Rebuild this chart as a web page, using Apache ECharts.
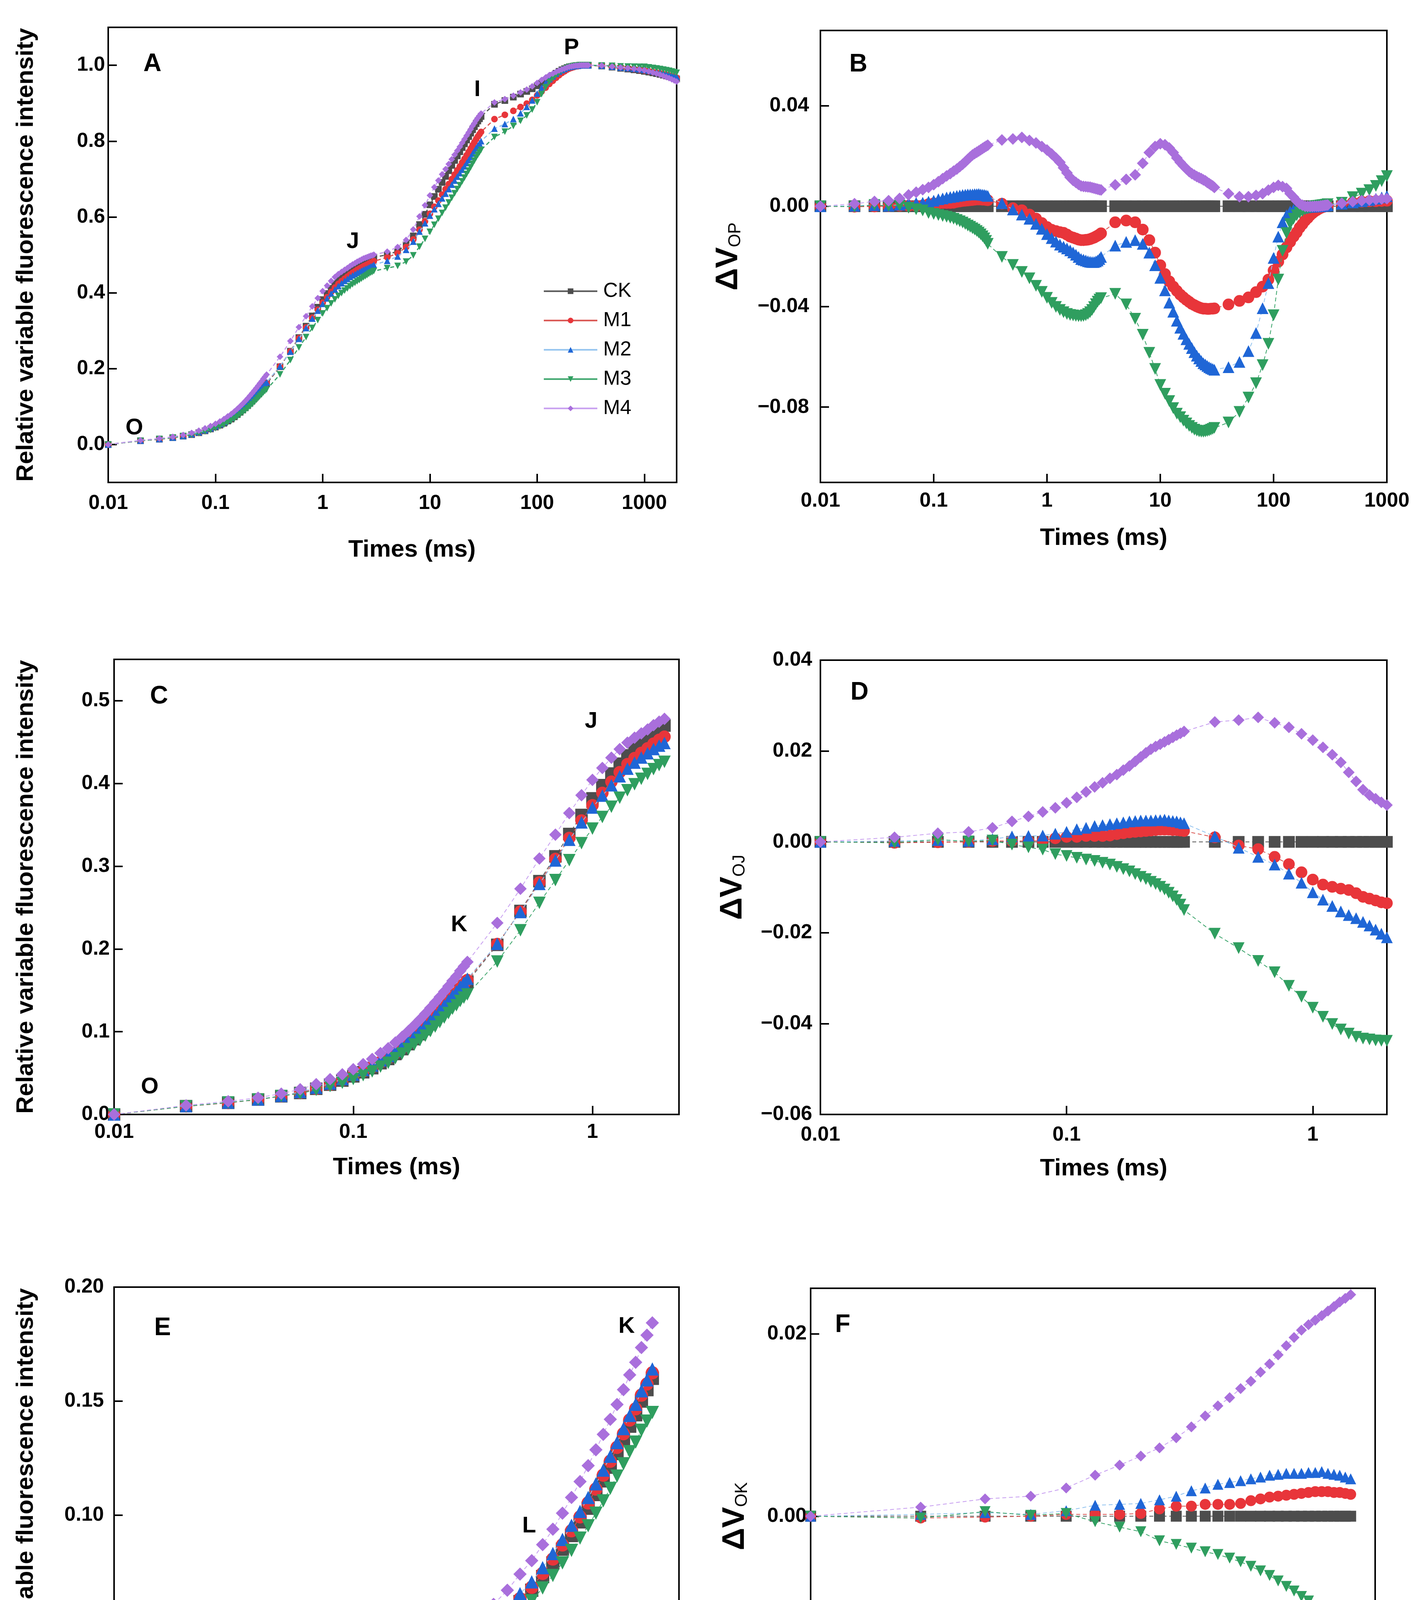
<!DOCTYPE html>
<html>
<head>
<meta charset="utf-8">
<script src="https://cdn.jsdelivr.net/npm/echarts@6/dist/echarts.min.js"></script>
<style>
html, body { margin: 0; padding: 0; background: #fff; }
#main { width: 3622px; height: 4691px; }
</style>
</head>
<body>
<div id="main"></div>
<script>
// sampling times (ms)
var times = [
    0.01, 0.02, 0.03, 0.04, 0.05, 0.06, 0.07, 0.08, 0.09, 0.10, 0.11, 0.12, 0.13, 0.14, 0.15,
    0.16, 0.17, 0.18, 0.19, 0.20, 0.21, 0.22, 0.23, 0.24, 0.25, 0.26, 0.27, 0.28, 0.29, 0.30,
    0.4, 0.5, 0.6, 0.7, 0.8, 0.9, 1.0, 1.1, 1.2, 1.3, 1.4, 1.5, 1.6, 1.7, 1.8, 1.9, 2.0,
    2.1, 2.2, 2.3, 2.4, 2.5, 2.6, 2.7, 2.8, 2.9, 3.0,
    4, 5, 6, 7, 8, 9, 10, 11, 12, 13, 14, 15, 16, 17, 18, 19, 20, 21, 22, 23, 24, 25, 26, 27, 28, 29, 30,
    40, 50, 60, 70, 80, 90, 100, 110, 120, 130, 140, 150, 160, 170, 180, 190, 200, 210, 220, 230, 240, 250, 260, 270, 280, 290, 300,
    400, 500, 600, 700, 800, 900, 1000, 1100, 1200, 1300, 1400, 1500, 1600, 1700, 1800, 1900, 2000
];

var seriesNames = ['CK', 'M1', 'M2', 'M3', 'M4'];

// relative variable fluorescence V(OP)
var vCK = [
    0, 0.010, 0.014, 0.018, 0.022, 0.026, 0.031, 0.036, 0.041, 0.046, 0.051, 0.056, 0.062, 0.067, 0.073,
    0.079, 0.085, 0.091, 0.097, 0.103, 0.109, 0.115, 0.121, 0.127, 0.133, 0.139, 0.144, 0.150, 0.155, 0.160,
    0.205, 0.246, 0.282, 0.312, 0.339, 0.362, 0.382, 0.398, 0.412, 0.424, 0.434, 0.442, 0.449, 0.455, 0.461, 0.466, 0.470,
    0.474, 0.477, 0.480, 0.483, 0.485, 0.487, 0.489, 0.491, 0.492, 0.494,
    0.500, 0.510, 0.527, 0.550, 0.580, 0.607, 0.632, 0.654, 0.673, 0.691, 0.707, 0.722, 0.736, 0.749, 0.761, 0.772, 0.783, 0.793, 0.803, 0.812, 0.821, 0.830, 0.838, 0.846, 0.853, 0.859, 0.865,
    0.897, 0.907, 0.916, 0.924, 0.931, 0.938, 0.946, 0.953, 0.960, 0.967, 0.973, 0.979, 0.984, 0.988, 0.991, 0.994, 0.996, 0.997, 0.998, 0.999, 0.999, 1.000, 1.000, 1.000, 1.000, 1.000, 1.000,
    0.998, 0.995, 0.992, 0.990, 0.988, 0.986, 0.984, 0.982, 0.980, 0.978, 0.976, 0.974, 0.972, 0.970, 0.968, 0.966, 0.964
];
var vM1 = [
    0, 0.0098, 0.0139, 0.0180, 0.0222, 0.0262, 0.0312, 0.0363, 0.0418, 0.0471, 0.0521, 0.0573, 0.0633, 0.0683, 0.0744,
    0.0807, 0.0869, 0.0931, 0.0992, 0.1053, 0.1114, 0.1175, 0.1236, 0.1297, 0.1357, 0.1417, 0.1466, 0.1526, 0.1575, 0.1624,
    0.2060, 0.2452, 0.2804, 0.3087, 0.3341, 0.3553, 0.3737, 0.3886, 0.4021, 0.4137, 0.4234, 0.4307, 0.4369, 0.4425, 0.4481, 0.4527, 0.4565,
    0.4605, 0.4636, 0.4667, 0.4699, 0.4722, 0.4745, 0.4769, 0.4793, 0.4807, 0.4832,
    0.4936, 0.5043, 0.5206, 0.5407, 0.5665, 0.5885, 0.6085, 0.6270, 0.6431, 0.6590, 0.6733, 0.6868, 0.6997, 0.7117, 0.7229, 0.7331, 0.7436, 0.7531, 0.7627, 0.7714, 0.7802, 0.7892, 0.7971, 0.8051, 0.8122, 0.8182, 0.8243,
    0.8579, 0.8693, 0.8797, 0.8898, 0.8990, 0.9088, 0.9204, 0.9309, 0.9408, 0.9506, 0.9588, 0.9669, 0.9736, 0.9795, 0.9839, 0.9883, 0.9913, 0.9934, 0.9952, 0.9969, 0.9974, 0.9989, 0.9993, 0.9996, 0.9998, 1.0000, 1.0000,
    0.9990, 0.9965, 0.9938, 0.9920, 0.9900, 0.9881, 0.9862, 0.9843, 0.9824, 0.9805, 0.9786, 0.9767, 0.9748, 0.9729, 0.9710, 0.9691, 0.9672
];
var vM2 = [
    0, 0.0102, 0.0144, 0.0182, 0.0226, 0.0272, 0.0323, 0.0374, 0.0428, 0.0482, 0.0538, 0.0591, 0.0655, 0.0707, 0.0769,
    0.0831, 0.0893, 0.0955, 0.1016, 0.1077, 0.1137, 0.1197, 0.1258, 0.1318, 0.1379, 0.1437, 0.1486, 0.1545, 0.1593, 0.1641,
    0.2062, 0.2447, 0.2787, 0.3070, 0.3320, 0.3530, 0.3709, 0.3853, 0.3979, 0.4087, 0.4179, 0.4252, 0.4314, 0.4366, 0.4417, 0.4458, 0.4490,
    0.4527, 0.4554, 0.4581, 0.4609, 0.4628, 0.4648, 0.4670, 0.4694, 0.4710, 0.4738,
    0.4843, 0.4958, 0.5135, 0.5350, 0.5615, 0.5835, 0.6035, 0.6205, 0.6346, 0.6490, 0.6614, 0.6736, 0.6852, 0.6960, 0.7062, 0.7155, 0.7249, 0.7335, 0.7424, 0.7504, 0.7585, 0.7670, 0.7744, 0.7819, 0.7885, 0.7942, 0.7999,
    0.8329, 0.8450, 0.8583, 0.8735, 0.8904, 0.9074, 0.9254, 0.9409, 0.9536, 0.9634, 0.9709, 0.9776, 0.9830, 0.9873, 0.9904, 0.9936, 0.9957, 0.9968, 0.9978, 0.9989, 0.9989, 1.0000, 1.0000, 1.0000, 1.0000, 1.0000, 1.0000,
    0.9990, 0.9965, 0.9940, 0.9925, 0.9910, 0.9895, 0.9880, 0.9862, 0.9844, 0.9826, 0.9808, 0.9790, 0.9772, 0.9754, 0.9736, 0.9718, 0.9700
];
var vM3 = [
    0, 0.0098, 0.0145, 0.0181, 0.0223, 0.0254, 0.0298, 0.0343, 0.0383, 0.0429, 0.0475, 0.0521, 0.0578, 0.0624, 0.0680,
    0.0735, 0.0790, 0.0845, 0.0899, 0.0953, 0.1008, 0.1062, 0.1117, 0.1171, 0.1225, 0.1278, 0.1320, 0.1372, 0.1412, 0.1450,
    0.1848, 0.2226, 0.2558, 0.2833, 0.3073, 0.3279, 0.3455, 0.3595, 0.3719, 0.3827, 0.3918, 0.3991, 0.4057, 0.4115, 0.4173, 0.4222, 0.4262,
    0.4303, 0.4336, 0.4371, 0.4408, 0.4437, 0.4468, 0.4500, 0.4530, 0.4548, 0.4574,
    0.4651, 0.4709, 0.4822, 0.4988, 0.5216, 0.5422, 0.5608, 0.5793, 0.5954, 0.6106, 0.6244, 0.6380, 0.6506, 0.6625, 0.6735, 0.6837, 0.6940, 0.7036, 0.7133, 0.7222, 0.7312, 0.7403, 0.7485, 0.7567, 0.7640, 0.7703, 0.7767,
    0.8109, 0.8251, 0.8398, 0.8535, 0.8677, 0.8832, 0.9026, 0.9238, 0.9422, 0.9563, 0.9659, 0.9740, 0.9804, 0.9854, 0.9891, 0.9927, 0.9951, 0.9964, 0.9977, 0.9990, 0.9991, 1.0000, 1.0000, 1.0000, 1.0000, 1.0000, 1.0000,
    0.9994, 0.9986, 0.9970, 0.9964, 0.9961, 0.9960, 0.9960, 0.9945, 0.9930, 0.9915, 0.9900, 0.9885, 0.9870, 0.9853, 0.9836, 0.9818, 0.9800
];
var vM4 = [
    0, 0.0110, 0.0159, 0.0202, 0.0251, 0.0305, 0.0366, 0.0426, 0.0485, 0.0546, 0.0608, 0.0670, 0.0741, 0.0800, 0.0870,
    0.0938, 0.1008, 0.1077, 0.1147, 0.1217, 0.1286, 0.1354, 0.1420, 0.1485, 0.1550, 0.1615, 0.1670, 0.1735, 0.1789, 0.1843,
    0.2314, 0.2728, 0.3094, 0.3382, 0.3642, 0.3858, 0.4044, 0.4188, 0.4312, 0.4415, 0.4493, 0.4553, 0.4605, 0.4653, 0.4705, 0.4747, 0.4781,
    0.4819, 0.4848, 0.4877, 0.4906, 0.4924, 0.4942, 0.4960, 0.4978, 0.4986, 0.5005,
    0.5085, 0.5207, 0.5395, 0.5671, 0.6014, 0.6308, 0.6569, 0.6785, 0.6962, 0.7124, 0.7262, 0.7395, 0.7521, 0.7639, 0.7748, 0.7850, 0.7954, 0.8048, 0.8144, 0.8230, 0.8315, 0.8401, 0.8475, 0.8550, 0.8615, 0.8671, 0.8725,
    0.9020, 0.9108, 0.9198, 0.9283, 0.9360, 0.9444, 0.9535, 0.9613, 0.9678, 0.9741, 0.9780, 0.9826, 0.9861, 0.9890, 0.9914, 0.9940, 0.9959, 0.9969, 0.9979, 0.9990, 0.9990, 1.0000, 1.0000, 1.0000, 1.0000, 1.0000, 1.0000,
    0.9992, 0.9968, 0.9942, 0.9925, 0.9907, 0.9889, 0.9870, 0.9840, 0.9810, 0.9780, 0.9750, 0.9720, 0.9690, 0.9660, 0.9630, 0.9600, 0.9570
];

// difference curves, treatment minus CK
var dCK = [
    0, 0, 0, 0, 0, 0, 0, 0, 0, 0, 0, 0, 0, 0, 0, 0, 0, 0, 0, 0, 0, 0, 0, 0, 0, 0, 0, 0, 0, 0,
    0, 0, 0, 0, 0, 0, 0, 0, 0, 0, 0, 0, 0, 0, 0, 0, 0, 0, 0, 0, 0, 0, 0, 0, 0, 0, 0,
    0, 0, 0, 0, 0, 0, 0, 0, 0, 0, 0, 0, 0, 0, 0, 0, 0, 0, 0, 0, 0, 0, 0, 0, 0, 0, 0,
    0, 0, 0, 0, 0, 0, 0, 0, 0, 0, 0, 0, 0, 0, 0, 0, 0, 0, 0, 0, 0, 0, 0, 0, 0, 0, 0,
    0, 0, 0, 0, 0, 0, 0, 0, 0, 0, 0, 0, 0, 0, 0, 0, 0
];
var dM1 = [
    0, -0.0002, -0.0001, 0, 0.0002, 0.0002, 0.0002, 0.0003, 0.0008, 0.0011, 0.0011, 0.0013, 0.0013, 0.0013, 0.0014,
    0.0017, 0.0019, 0.0021, 0.0022, 0.0023, 0.0024, 0.0025, 0.0026, 0.0027, 0.0027, 0.0027, 0.0026, 0.0026, 0.0025, 0.0024,
    0.0010, -0.0008, -0.0016, -0.0033, -0.0049, -0.0067, -0.0083, -0.0094, -0.0099, -0.0103, -0.0106, -0.0113, -0.0121, -0.0125, -0.0129, -0.0133, -0.0135,
    -0.0135, -0.0134, -0.0133, -0.0131, -0.0128, -0.0125, -0.0121, -0.0117, -0.0113, -0.0108,
    -0.0064, -0.0057, -0.0064, -0.0093, -0.0135, -0.0185, -0.0235, -0.0270, -0.0299, -0.0320, -0.0337, -0.0352, -0.0363, -0.0373, -0.0381, -0.0389, -0.0394, -0.0399, -0.0403, -0.0406, -0.0408, -0.0408, -0.0409, -0.0409, -0.0408, -0.0408, -0.0407,
    -0.0391, -0.0377, -0.0363, -0.0342, -0.0320, -0.0292, -0.0256, -0.0221, -0.0192, -0.0164, -0.0142, -0.0121, -0.0104, -0.0085, -0.0071, -0.0057, -0.0047, -0.0036, -0.0028, -0.0021, -0.0016, -0.0011, -0.0007, -0.0004, -0.0002, 0, 0.0001,
    0.0010, 0.0015, 0.0018, 0.0020, 0.0020, 0.0021, 0.0022, 0.0023, 0.0024, 0.0025, 0.0026, 0.0027, 0.0028, 0.0029, 0.0030, 0.0031, 0.0032
];
var dM2 = [
    0, 0.0002, 0.0004, 0.0002, 0.0006, 0.0012, 0.0013, 0.0014, 0.0018, 0.0022, 0.0028, 0.0031, 0.0035, 0.0037, 0.0039,
    0.0041, 0.0043, 0.0045, 0.0046, 0.0047, 0.0047, 0.0047, 0.0048, 0.0048, 0.0049, 0.0047, 0.0046, 0.0045, 0.0043, 0.0041,
    0.0012, -0.0013, -0.0033, -0.0050, -0.0070, -0.0090, -0.0111, -0.0127, -0.0141, -0.0153, -0.0161, -0.0168, -0.0176, -0.0184, -0.0193, -0.0202, -0.0210,
    -0.0213, -0.0216, -0.0219, -0.0221, -0.0222, -0.0222, -0.0220, -0.0216, -0.0210, -0.0202,
    -0.0157, -0.0142, -0.0135, -0.0150, -0.0185, -0.0235, -0.0285, -0.0335, -0.0384, -0.0420, -0.0456, -0.0484, -0.0508, -0.0530, -0.0548, -0.0565, -0.0581, -0.0595, -0.0606, -0.0616, -0.0625, -0.0630, -0.0636, -0.0641, -0.0645, -0.0648, -0.0651,
    -0.0641, -0.0620, -0.0577, -0.0505, -0.0406, -0.0306, -0.0206, -0.0121, -0.0064, -0.0036, -0.0021, -0.0014, -0.0010, -0.0007, -0.0006, -0.0004, -0.0003, -0.0002, -0.0002, -0.0001, -0.0001, 0, 0, 0.0001, 0.0002, 0.0003, 0.0004,
    0.0010, 0.0015, 0.0020, 0.0025, 0.0030, 0.0035, 0.0040, 0.0042, 0.0044, 0.0046, 0.0048, 0.0050, 0.0052, 0.0054, 0.0056, 0.0058, 0.0060
];
var dM3 = [
    0, -0.0002, 0.0005, 0.0001, 0.0003, -0.0006, -0.0012, -0.0017, -0.0027, -0.0031, -0.0035, -0.0039, -0.0042, -0.0046, -0.0050,
    -0.0055, -0.0060, -0.0065, -0.0071, -0.0077, -0.0082, -0.0088, -0.0093, -0.0099, -0.0105, -0.0112, -0.0120, -0.0128, -0.0138, -0.0150,
    -0.0202, -0.0234, -0.0262, -0.0287, -0.0317, -0.0341, -0.0365, -0.0385, -0.0401, -0.0413, -0.0422, -0.0429, -0.0433, -0.0435, -0.0437, -0.0438, -0.0438,
    -0.0437, -0.0434, -0.0429, -0.0422, -0.0413, -0.0402, -0.0390, -0.0380, -0.0372, -0.0366,
    -0.0349, -0.0391, -0.0448, -0.0512, -0.0584, -0.0648, -0.0712, -0.0747, -0.0776, -0.0804, -0.0826, -0.0840, -0.0854, -0.0865, -0.0875, -0.0883, -0.0890, -0.0894, -0.0897, -0.0898, -0.0898, -0.0897, -0.0895, -0.0893, -0.0890, -0.0887, -0.0883,
    -0.0861, -0.0819, -0.0762, -0.0705, -0.0633, -0.0548, -0.0434, -0.0292, -0.0178, -0.0107, -0.0071, -0.0050, -0.0036, -0.0026, -0.0019, -0.0013, -0.0009, -0.0006, -0.0003, 0, 0.0001, 0.0002, 0.0003, 0.0004, 0.0005, 0.0006, 0.0008,
    0.0014, 0.0036, 0.0050, 0.0064, 0.0081, 0.0100, 0.0120, 0.0125, 0.0130, 0.0135, 0.0140, 0.0145, 0.0150, 0.0153, 0.0156, 0.0158, 0.0160
];
var dM4 = [
    0, 0.0010, 0.0019, 0.0022, 0.0031, 0.0045, 0.0056, 0.0066, 0.0075, 0.0086, 0.0098, 0.0110, 0.0121, 0.0130, 0.0140,
    0.0148, 0.0158, 0.0167, 0.0177, 0.0187, 0.0196, 0.0204, 0.0210, 0.0215, 0.0220, 0.0225, 0.0230, 0.0235, 0.0239, 0.0243,
    0.0264, 0.0268, 0.0274, 0.0262, 0.0252, 0.0238, 0.0224, 0.0208, 0.0192, 0.0175, 0.0153, 0.0133, 0.0115, 0.0103, 0.0095, 0.0087, 0.0081,
    0.0079, 0.0078, 0.0077, 0.0076, 0.0074, 0.0072, 0.0070, 0.0068, 0.0066, 0.0065,
    0.0085, 0.0107, 0.0125, 0.0171, 0.0214, 0.0238, 0.0249, 0.0245, 0.0232, 0.0214, 0.0192, 0.0175, 0.0161, 0.0149, 0.0138, 0.0130, 0.0124, 0.0118, 0.0114, 0.0110, 0.0105, 0.0101, 0.0095, 0.0090, 0.0085, 0.0081, 0.0075,
    0.0050, 0.0038, 0.0038, 0.0043, 0.0050, 0.0064, 0.0075, 0.0083, 0.0078, 0.0071, 0.0050, 0.0036, 0.0021, 0.0010, 0.0004, 0, -0.0001, -0.0001, -0.0001, 0, 0, 0, 0.0001, 0.0002, 0.0003, 0.0004, 0.0005,
    0.0012, 0.0018, 0.0022, 0.0025, 0.0027, 0.0029, 0.0030, 0.0020, 0.0010, 0, -0.0010, -0.0020, -0.0030, -0.0040, -0.0050, -0.0060, -0.0070
];

var vSets = [vCK, vM1, vM2, vM3, vM4];
var dSets = [dCK, dM1, dM2, dM3, dM4];

var FONT = '"Liberation Sans", Arial, Helvetica, sans-serif';
var markerColors = ['#4d4d4d', '#e8353a', '#1f66d6', '#2f9e5f', '#a96fdc'];
var lineColors = ['#555555', '#d9534f', '#92c3ef', '#3aa46a', '#c79ef0'];
var symbols = ['rect', 'circle', 'triangle', 'triangle', 'diamond'];
var rotations = [0, 0, 0, 180, 0];

function pairs(ys, tMax) {
    var out = [];
    for (var i = 0; i < times.length; i++) {
        if (times[i] <= tMax * 1.0001) out.push([times[i], ys[i]]);
    }
    return out;
}

function fmtLog(v) {
    var e = Math.log(v) / Math.LN10;
    if (Math.abs(e - Math.round(e)) > 1e-6) return '';
    return String(+v.toPrecision(6));
}

function fmtFixed(d) {
    return function (v) {
        var s = Math.abs(v).toFixed(d);
        return (v < -1e-9 ? '\u2212' : '') + s;
    };
}

var grids = [
    { left: 277, top: 70, width: 1455, height: 1165 },
    { left: 2100, top: 78, width: 1450, height: 1157 },
    { left: 292, top: 1688, width: 1446, height: 1165 },
    { left: 2100, top: 1690, width: 1450, height: 1163 },
    { left: 292, top: 3295, width: 1446, height: 1167 },
    { left: 2075, top: 3298, width: 1445, height: 1167 }
];

var xMax = [2000, 1000, 2.3, 2, 0.355, 0.35];
var dataMax = [2000, 1000, 2, 2, 0.3, 0.3];
var xLabelMargin = [28, 22, 20, 27, 19, 25];
var xNameGap = [142, 112, 105, 108, 106, 112];
var symbolSizes = [17, 30, 32, 30, 34, 28];

var yCfg = [
    { min: -0.1, max: 1.1, ticks: [0, 0.2, 0.4, 0.6, 0.8, 1.0], dec: 1, margin: 8, gap: 179, delta: null },
    { min: -0.11, max: 0.07, ticks: [-0.08, -0.04, 0, 0.04], dec: 2, margin: 29, gap: 195, delta: 'OP' },
    { min: 0, max: 0.55, ticks: [0, 0.1, 0.2, 0.3, 0.4, 0.5], dec: 1, margin: 11, gap: 194, delta: null },
    { min: -0.06, max: 0.04, ticks: [-0.06, -0.04, -0.02, 0, 0.02, 0.04], dec: 2, margin: 21, gap: 184, delta: 'OJ' },
    { min: 0, max: 0.2, ticks: [0, 0.05, 0.1, 0.15, 0.2], dec: 2, margin: 26, gap: 194, delta: null },
    { min: -0.025, max: 0.025, ticks: [-0.02, 0, 0.02], dec: 2, margin: 10, gap: 153, delta: 'OK' }
];

var pointLabels = [
    [['O', 0.0175, 0.043], ['J', 1.91, 0.534], ['I', 27.7, 0.935], ['P', 209, 1.045]],
    null,
    [['O', 0.0141, 0.033], ['K', 0.277, 0.229], ['J', 0.987, 0.475]],
    null,
    [['O', 0.0124, 0.012], ['L', 0.1377, 0.0951], ['K', 0.255, 0.1827]],
    null
];

var panelLetters = [
    ['A', 390, 164], ['B', 2197, 165], ['C', 407, 1783],
    ['D', 2200, 1773], ['E', 416, 3400], ['F', 2157, 3392]
];

var xAxes = [], yAxes = [], series = [];

grids.forEach(function (g, gi) {
    xAxes.push({
        type: 'log', logBase: 10, gridIndex: gi, min: 0.01, max: xMax[gi],
        name: 'Times (ms)', nameLocation: 'middle', nameGap: xNameGap[gi],
        nameTextStyle: {
            fontFamily: FONT, fontSize: 62, fontWeight: 'bold', color: '#000',
            padding: gi === 0 ? [0, 0, 0, 100] : 0
        },
        axisLine: { show: true, onZero: false, lineStyle: { color: '#000', width: 4 } },
        axisTick: { show: true, inside: true, length: 22, lineStyle: { color: '#000', width: 4 } },
        axisLabel: {
            margin: xLabelMargin[gi], fontFamily: FONT, fontSize: 52, fontWeight: 'bold', color: '#000',
            formatter: fmtLog, showMinLabel: true, showMaxLabel: true
        },
        splitLine: { show: false }
    });

    var yc = yCfg[gi];
    var yName, yNameStyle;
    if (yc.delta) {
        yName = '{a|\u0394V}{b|' + yc.delta + '}';
        yNameStyle = {
            color: '#000',
            rich: {
                a: { fontFamily: FONT, fontSize: 80, fontWeight: 'bold', color: '#000', lineHeight: 80 },
                b: { fontFamily: FONT, fontSize: 44, color: '#000', lineHeight: 20, verticalAlign: 'bottom' }
            }
        };
    } else {
        yName = 'Relative variable fluorescence intensity';
        yNameStyle = { fontFamily: FONT, fontSize: 62, fontWeight: 'bold', color: '#000' };
    }
    yAxes.push({
        type: 'value', gridIndex: gi, min: yc.min, max: yc.max,
        name: yName, nameLocation: 'middle', nameGap: yc.gap, nameRotate: 90,
        nameTextStyle: yNameStyle,
        axisLine: { show: true, onZero: false, lineStyle: { color: '#000', width: 4 } },
        axisTick: { show: true, inside: true, length: 22, customValues: yc.ticks, lineStyle: { color: '#000', width: 4 } },
        axisLabel: {
            margin: yc.margin, fontFamily: FONT, fontSize: 52, fontWeight: 'bold', color: '#000',
            customValues: yc.ticks, formatter: fmtFixed(yc.dec)
        },
        splitLine: { show: false }
    });

    var sets = (gi % 2 === 0) ? vSets : dSets;
    seriesNames.forEach(function (name, si) {
        var s = {
            name: name, type: 'line', xAxisIndex: gi, yAxisIndex: gi,
            data: pairs(sets[si], dataMax[gi]),
            symbol: symbols[si], symbolSize: symbolSizes[gi], symbolRotate: rotations[si],
            showAllSymbol: true, clip: true,
            itemStyle: { color: markerColors[si] },
            lineStyle: { color: lineColors[si], width: gi === 0 ? 3 : 2, type: [10, 7] },
            emphasis: { disabled: true },
            z: 2 + si
        };
        if (si === 0 && pointLabels[gi]) {
            s.markPoint = {
                symbol: 'circle', symbolSize: 1,
                itemStyle: { color: 'rgba(0,0,0,0)' },
                label: {
                    show: true, position: 'inside', formatter: function (p) { return p.name; },
                    fontFamily: FONT, fontSize: 58, fontWeight: 'bold', color: '#000'
                },
                data: pointLabels[gi].map(function (p) {
                    return { name: p[0], coord: [p[1], p[2]] };
                })
            };
        }
        series.push(s);
    });
});

var chart = echarts.init(document.getElementById('main'), null, { renderer: 'canvas' });
chart.setOption({
    animation: false,
    backgroundColor: '#fff',
    grid: grids.map(function (g) {
        return {
            left: g.left, top: g.top, width: g.width, height: g.height,
            show: true, borderColor: '#000', borderWidth: 4, backgroundColor: 'transparent'
        };
    }),
    xAxis: xAxes,
    yAxis: yAxes,
    legend: {
        data: seriesNames, orient: 'vertical', left: 1385, top: 703,
        itemWidth: 137, itemHeight: 18, itemGap: 0, selectedMode: false,
        lineStyle: { type: 'solid', width: 4 },
        textStyle: { fontFamily: FONT, fontSize: 52, color: '#000', lineHeight: 75, padding: [0, 0, 0, 10] }
    },
    graphic: panelLetters.map(function (p) {
        return {
            type: 'text', x: p[1], y: p[2], z: 50,
            style: {
                text: p[0], fill: '#000', font: 'bold 64px ' + FONT,
                align: 'center', verticalAlign: 'middle'
            }
        };
    }),
    series: series
});
</script>
</body>
</html>
